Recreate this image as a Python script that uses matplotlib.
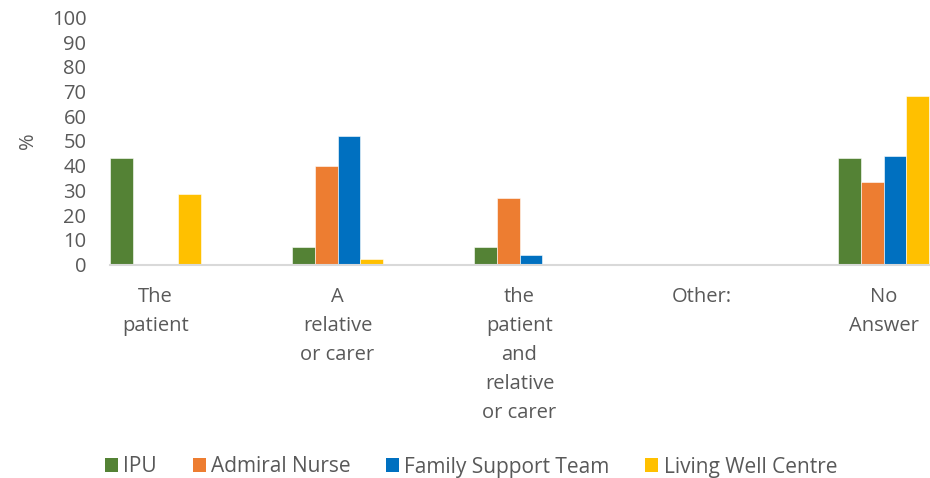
import matplotlib as mpl
mpl.use('agg')
import matplotlib.pyplot as plt
from matplotlib.patches import Patch
import numpy as np

plt.rcParams['font.family'] = ['Open Sans', 'DejaVu Sans']

categories = ["The\npatient", "A\nrelative\nor carer", "the\npatient\nand\nrelative\nor carer",
              "Other:", "No\nAnswer"]
series_names = ["IPU", "Admiral Nurse", "Family Support Team", "Living Well Centre"]
ipu = [42.9, 7.1, 7.1, 0, 42.9]
admiral_nurse = [0, 40.0, 26.7, 0, 33.3]
family_support = [0, 52.0, 4.0, 0, 44.0]
living_well = [28.6, 2.4, 0, 0, 68.3]
colors = ["#548235", "#ED7D31", "#0070C0", "#FFC000"]
yticks = list(range(0, 101, 10))

text_grey = "#595959"

fig = plt.figure(figsize=(9.3, 4.78), dpi=100)
ax = fig.add_axes([110 / 930, 1 - 264.5 / 478, 1 - 110 / 930, (264.5 - 17.3) / 478])

x = np.arange(len(categories))
width = 0.125
all_series = [ipu, admiral_nurse, family_support, living_well]
for i, vals in enumerate(all_series):
    ax.bar(x + (i - 1.5) * width, vals, width, color=colors[i],
           edgecolor="white", linewidth=0.4, label=series_names[i], zorder=2)

ax.set_xlim(-0.25, 4.255)
ax.set_ylim(0, 100)
ax.set_yticks(yticks)
ax.set_xticks(x)
ax.set_xticklabels(categories, linespacing=1.61)

for side in ["top", "right", "left"]:
    ax.spines[side].set_visible(False)
ax.spines["bottom"].set_color("#D9D9D9")
ax.spines["bottom"].set_linewidth(1.5)

ax.tick_params(axis="y", length=0, pad=17, labelsize=14.5, labelcolor=text_grey)
ax.tick_params(axis="x", length=0, pad=16, labelsize=14.5, labelcolor=text_grey)
for lab in ax.get_xticklabels():
    lab.set_verticalalignment("top")

fig.text(28 / 930, 1 - 141 / 478, "%", rotation=90, ha="center", va="center",
         fontsize=14.5, color=text_grey)

handles = [Patch(facecolor=c, edgecolor="none") for c in colors]
fig.legend(handles, series_names, loc="center left", bbox_to_anchor=(105 / 930, 1 - 467 / 478),
           ncol=4, frameon=False, fontsize=15, labelcolor=text_grey,
           handlelength=0.62, handleheight=0.62, handletextpad=0.25, columnspacing=1.72,
           borderaxespad=0, borderpad=0)

plt.savefig("out.png", dpi=100)
